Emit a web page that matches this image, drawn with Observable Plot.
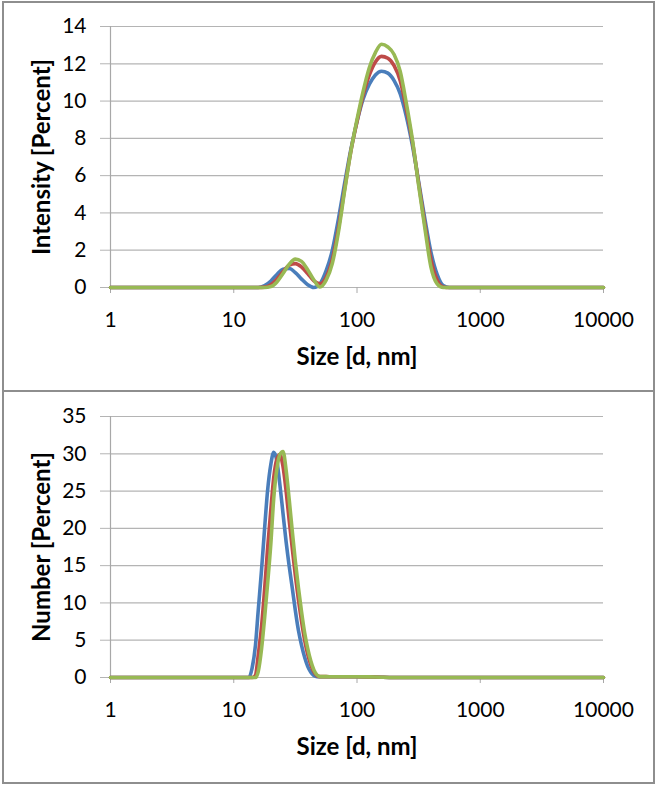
<!DOCTYPE html>
<html><head><meta charset="utf-8">
<script src="https://cdn.jsdelivr.net/npm/d3@7"></script>
<script src="https://cdn.jsdelivr.net/npm/@observablehq/plot@0.6"></script>
<style>
body{margin:0;background:#fff;}
#wrap{position:relative;width:657px;height:786px;overflow:hidden;font-family:Lato,"Open Sans",sans-serif;background:#fff;}
.frame{position:absolute;left:2px;top:1px;width:653px;height:783px;box-sizing:border-box;border:2px solid #8e8e8e;pointer-events:none;}
.divider{position:absolute;left:2px;top:390px;width:653px;height:2px;background:#8e8e8e;}
#top,#bottom{position:absolute;left:0;}
#top{top:0}
#bottom{top:390px}
</style></head>
<body>
<div id="wrap">
  <div id="top"></div>
  <div id="bottom"></div>
  <div class="frame"></div>
  <div class="divider"></div>
</div>
<script>
const seriesNames = ["Run 1", "Run 2", "Run 3"];
const seriesColors = ["#4a7ebb", "#be4b48", "#98b954"];
const xTicks = [1, 10, 100, 1000, 10000];
const topYTicks = [0, 2, 4, 6, 8, 10, 12, 14];
const bottomYTicks = [0, 5, 10, 15, 20, 25, 30, 35];

// Intensity distribution (top)
const topSizes = [1, 15.8, 17.8, 20.0, 22.4, 25.1, 28.2, 31.6, 35.5, 39.8, 44.7, 50.1, 56.2, 63.1, 70.8, 79.4, 89.1, 100, 112, 126, 141, 158, 178, 200, 224, 251, 282, 316, 355, 398, 447, 501, 562, 631, 10000];
const topBlue  = [0, 0, 0.1, 0.35, 0.7, 0.98, 1.02, 0.8, 0.45, 0.15, 0, 0.2, 0.9, 2.0, 3.7, 5.6, 7.4, 8.9, 10.1, 10.9, 11.4, 11.6, 11.5, 11.1, 10.4, 9.2, 7.6, 5.7, 3.7, 1.9, 0.7, 0.1, 0, 0, 0];
const topRed   = [0, 0, 0.02, 0.15, 0.45, 0.85, 1.2, 1.28, 1.1, 0.75, 0.35, 0.2, 0.55, 1.5, 3.2, 5.3, 7.3, 8.9, 10.3, 11.4, 12.1, 12.4, 12.3, 11.9, 11.1, 9.6, 7.8, 5.6, 3.4, 1.5, 0.4, 0.03, 0, 0, 0];
const topGreen = [0, 0, 0, 0.05, 0.3, 0.75, 1.25, 1.52, 1.4, 0.95, 0.4, 0.03, 0.4, 1.3, 3.0, 5.2, 7.3, 9.0, 10.5, 11.8, 12.6, 13.05, 12.9, 12.5, 11.6, 9.9, 7.9, 5.5, 3.2, 1.1, 0.2, 0, 0, 0, 0];

// Number distribution (bottom)
const bottomSizes = [1, 12.6, 13.3, 14.1, 15.0, 15.8, 16.8, 17.8, 18.8, 20.0, 21.1, 22.4, 23.7, 25.1, 26.6, 28.2, 29.9, 31.6, 33.5, 35.5, 37.6, 39.8, 42.2, 44.7, 47.3, 50.1, 56.2, 63.1, 79.4, 100, 126, 158, 200, 10000];
const bottomBlue  = [0, 0, 0, 1.3, 4.3, 9.0, 14.4, 20.0, 25.0, 28.6, 30.2, 29.0, 25.8, 22.0, 18.2, 14.9, 11.9, 9.0, 6.3, 4.3, 2.7, 1.5, 0.7, 0.25, 0.1, 0.1, 0.1, 0.1, 0.1, 0.1, 0.08, 0.03, 0, 0];
const bottomRed   = [0, 0, 0, 0, 0.3, 3.0, 6.8, 11.8, 17.2, 22.5, 26.8, 29.3, 29.9, 28.3, 25.0, 21.0, 17.2, 13.7, 10.4, 7.5, 5.0, 3.1, 1.7, 0.75, 0.25, 0.12, 0.12, 0.1, 0.1, 0.1, 0.08, 0.03, 0, 0];
const bottomGreen = [0, 0, 0, 0, 0, 0.8, 3.8, 8.0, 12.5, 18.0, 24.0, 28.0, 29.9, 30.3, 27.8, 23.8, 19.5, 15.6, 12.0, 8.8, 6.0, 3.9, 2.2, 1.0, 0.35, 0.12, 0.12, 0.1, 0.1, 0.1, 0.08, 0.03, 0, 0];

function table(sizes, lists) {
  return lists.flatMap((vals, i) => sizes.map((s, j) => ({size: s, value: vals[j], series: seriesNames[i]})));
}

function panel(data, yMax, yTicks, yTitle, height, marginBottom) {
  return Plot.plot({
    width: 657,
    height,
    marginLeft: 110,
    marginRight: 54,
    marginTop: 26,
    marginBottom,
    style: {fontFamily: "Lato, 'Open Sans', sans-serif", fontSize: "21px", background: "transparent"},
    x: {type: "log", domain: [1, 10000]},
    y: {domain: [0, yMax]},
    color: {domain: seriesNames, range: seriesColors},
    marks: [
      Plot.gridY(yTicks, {stroke: "#b4b4b4", strokeOpacity: 1, strokeWidth: 1.2}),
      Plot.axisY(yTicks, {tickSize: 10, tickPadding: 14, stroke: "#b4b4b4", fill: "#000", fontSize: 21, label: null}),
      Plot.axisX(xTicks, {tickSize: 6, tickPadding: 19, stroke: "#a8a8a8", fill: "#000", fontSize: 21, tickFormat: d => String(d), label: null}),
      Plot.ruleX([1], {stroke: "#a8a8a8", strokeWidth: 1.2}),
      Plot.line(data, {x: "size", y: "value", z: "series", stroke: "series", strokeWidth: 3.6, curve: "monotone-x"}),
      Plot.text(["Size [d, nm]"], {frameAnchor: "bottom", dy: 70, lineAnchor: "middle", textAnchor: "middle", fontWeight: "bold", fontSize: 24, fill: "#000"}),
      Plot.text([yTitle], {frameAnchor: "left", dx: -68, rotate: -90, lineAnchor: "middle", textAnchor: "middle", fontWeight: "bold", fontSize: 24, fill: "#000"})
    ]
  });
}

document.getElementById("top").append(
  panel(table(topSizes, [topBlue, topRed, topGreen]), 14, topYTicks, "Intensity [Percent]", 390, 103)
);
document.getElementById("bottom").append(
  panel(table(bottomSizes, [bottomBlue, bottomRed, bottomGreen]), 35, bottomYTicks, "Number [Percent]", 396, 109)
);
</script>
</body></html>
